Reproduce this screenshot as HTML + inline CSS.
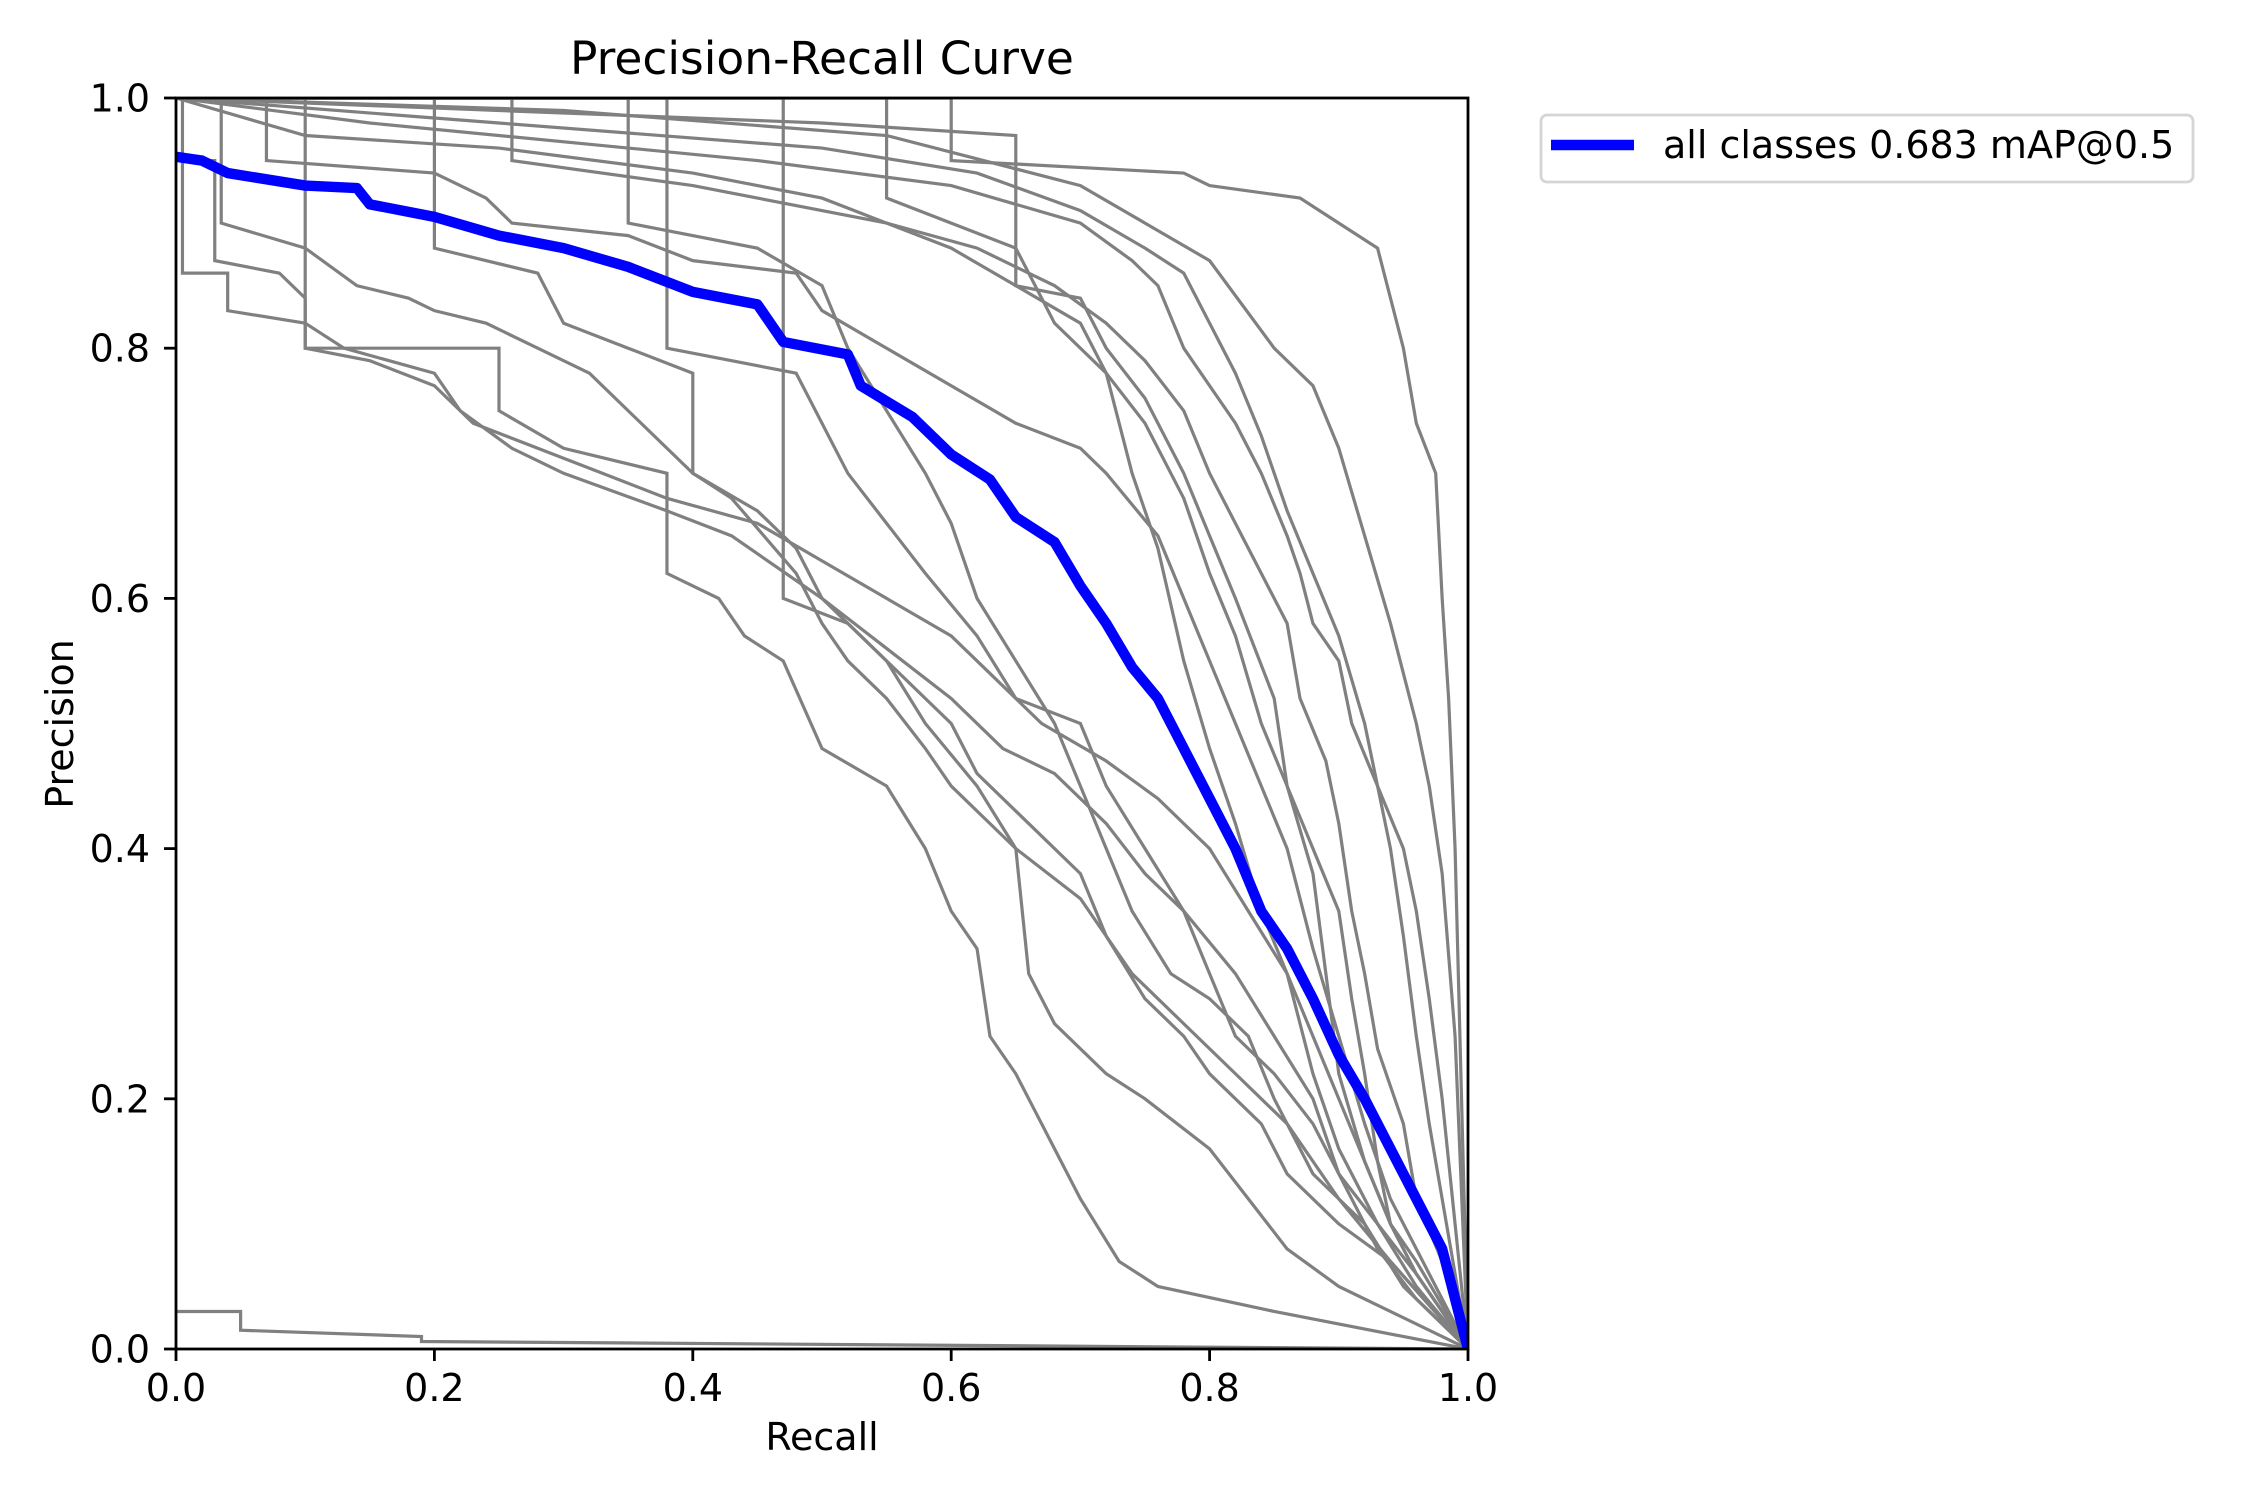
<!DOCTYPE html>
<html><head><meta charset="utf-8"><style>
html,body{margin:0;padding:0;background:#fff;}
svg{display:block;font-family:"DejaVu Sans","Liberation Sans",sans-serif;}
</style></head><body>
<svg width="2250" height="1500" viewBox="0 0 2250 1500" xmlns="http://www.w3.org/2000/svg">
<rect width="2250" height="1500" fill="#fff"/>
<defs><clipPath id="c"><rect x="176" y="98" width="1292" height="1251"/></clipPath></defs>
<g clip-path="url(#c)">
<g transform="translate(176,1349) scale(1292,-1251)" fill="none" stroke="#808080" stroke-width="3.2" stroke-linejoin="miter">
<polyline vector-effect="non-scaling-stroke" points="0,1 0.6,1 0.6,0.95 0.78,0.94 0.8,0.93 0.87,0.92 0.9,0.9 0.93,0.88 0.94,0.84 0.95,0.8 0.96,0.74 0.975,0.7 0.98,0.6 0.985,0.52 0.99,0.4 0.995,0.2 1,0"/>
<polyline vector-effect="non-scaling-stroke" points="0,1 0.3,0.99 0.55,0.97 0.7,0.93 0.75,0.9 0.8,0.87 0.85,0.8 0.88,0.77 0.9,0.72 0.92,0.65 0.94,0.58 0.96,0.5 0.97,0.45 0.98,0.38 0.99,0.25 1,0"/>
<polyline vector-effect="non-scaling-stroke" points="0,1 0.25,0.98 0.5,0.96 0.62,0.94 0.7,0.91 0.75,0.88 0.78,0.86 0.8,0.82 0.82,0.78 0.84,0.73 0.86,0.67 0.88,0.62 0.9,0.57 0.92,0.5 0.93,0.45 0.95,0.4 0.96,0.35 0.97,0.28 0.98,0.2 0.99,0.1 1,0"/>
<polyline vector-effect="non-scaling-stroke" points="0,1 0.15,0.98 0.45,0.95 0.6,0.93 0.7,0.9 0.74,0.87 0.76,0.85 0.78,0.8 0.8,0.77 0.82,0.74 0.84,0.7 0.86,0.65 0.87,0.62 0.88,0.58 0.9,0.55 0.91,0.5 0.93,0.45 0.94,0.4 0.95,0.33 0.96,0.25 0.97,0.18 0.98,0.12 1,0"/>
<polyline vector-effect="non-scaling-stroke" points="0,1 0.26,1 0.26,0.95 0.4,0.93 0.55,0.9 0.62,0.88 0.68,0.85 0.72,0.82 0.75,0.79 0.78,0.75 0.8,0.7 0.82,0.66 0.84,0.62 0.86,0.58 0.87,0.52 0.89,0.47 0.9,0.42 0.91,0.35 0.92,0.3 0.93,0.24 0.95,0.18 0.96,0.12 0.98,0.07 1,0"/>
<polyline vector-effect="non-scaling-stroke" points="0,1 0.1,0.97 0.25,0.96 0.4,0.94 0.5,0.92 0.6,0.88 0.65,0.85 0.7,0.82 0.72,0.78 0.75,0.74 0.78,0.68 0.8,0.62 0.82,0.57 0.84,0.5 0.86,0.45 0.88,0.4 0.9,0.35 0.91,0.28 0.92,0.22 0.93,0.15 0.94,0.1 0.96,0.06 1,0"/>
<polyline vector-effect="non-scaling-stroke" points="0,1 0.07,1 0.07,0.95 0.2,0.94 0.24,0.92 0.26,0.9 0.35,0.89 0.4,0.87 0.48,0.86 0.5,0.83 0.55,0.8 0.6,0.77 0.65,0.74 0.7,0.72 0.72,0.7 0.76,0.65 0.78,0.6 0.8,0.55 0.82,0.5 0.84,0.45 0.86,0.4 0.88,0.32 0.9,0.25 0.92,0.18 0.94,0.12 0.96,0.08 1,0"/>
<polyline vector-effect="non-scaling-stroke" points="0,1 0.55,1 0.55,0.92 0.6,0.9 0.65,0.88 0.68,0.82 0.72,0.78 0.74,0.7 0.76,0.64 0.78,0.55 0.8,0.48 0.82,0.42 0.84,0.35 0.86,0.3 0.88,0.25 0.9,0.2 0.92,0.15 0.94,0.1 0.96,0.07 1,0"/>
<polyline vector-effect="non-scaling-stroke" points="0,1 0.47,1 0.47,0.6 0.52,0.58 0.55,0.55 0.58,0.52 0.6,0.5 0.62,0.46 0.66,0.42 0.7,0.38 0.72,0.33 0.75,0.28 0.78,0.25 0.8,0.22 0.84,0.18 0.86,0.14 0.9,0.1 0.94,0.07 1,0"/>
<polyline vector-effect="non-scaling-stroke" points="0,0.95 0.03,0.95 0.03,0.87 0.08,0.86 0.1,0.84 0.1,0.8 0.15,0.79 0.2,0.77 0.23,0.74 0.28,0.72 0.33,0.7 0.38,0.68 0.45,0.66 0.5,0.63 0.55,0.6 0.6,0.57 0.63,0.54 0.67,0.5 0.72,0.47 0.76,0.44 0.8,0.4 0.83,0.35 0.86,0.3 0.88,0.22 0.9,0.16 0.93,0.1 0.96,0.05 1,0"/>
<polyline vector-effect="non-scaling-stroke" points="0,1 0.005,1 0.005,0.86 0.04,0.86 0.04,0.83 0.1,0.82 0.13,0.8 0.2,0.78 0.22,0.75 0.26,0.72 0.3,0.7 0.38,0.67 0.43,0.65 0.5,0.6 0.55,0.56 0.6,0.52 0.64,0.48 0.68,0.46 0.72,0.42 0.75,0.38 0.78,0.35 0.82,0.3 0.85,0.25 0.88,0.2 0.9,0.14 0.93,0.08 0.96,0.04 1,0"/>
<polyline vector-effect="non-scaling-stroke" points="0,1 0.1,1 0.1,0.8 0.25,0.8 0.25,0.75 0.3,0.72 0.38,0.7 0.38,0.62 0.42,0.6 0.44,0.57 0.47,0.55 0.5,0.48 0.55,0.45 0.58,0.4 0.6,0.35 0.62,0.32 0.63,0.25 0.65,0.22 0.67,0.18 0.7,0.12 0.73,0.07 0.76,0.05 0.85,0.03 1,0"/>
<polyline vector-effect="non-scaling-stroke" points="0,1 0.2,1 0.2,0.88 0.28,0.86 0.3,0.82 0.35,0.8 0.4,0.78 0.4,0.7 0.45,0.67 0.48,0.64 0.5,0.6 0.55,0.55 0.58,0.5 0.62,0.45 0.65,0.4 0.66,0.3 0.68,0.26 0.72,0.22 0.75,0.2 0.8,0.16 0.83,0.12 0.86,0.08 0.9,0.05 1,0"/>
<polyline vector-effect="non-scaling-stroke" points="0,1 0.35,1 0.35,0.9 0.45,0.88 0.5,0.85 0.52,0.8 0.55,0.75 0.58,0.7 0.6,0.66 0.62,0.6 0.65,0.55 0.68,0.5 0.7,0.45 0.72,0.4 0.74,0.35 0.77,0.3 0.8,0.28 0.83,0.25 0.85,0.2 0.88,0.14 0.92,0.1 0.95,0.05 1,0"/>
<polyline vector-effect="non-scaling-stroke" points="0,1 0.38,1 0.38,0.8 0.48,0.78 0.52,0.7 0.55,0.66 0.58,0.62 0.62,0.57 0.65,0.52 0.7,0.5 0.72,0.45 0.75,0.4 0.78,0.35 0.8,0.3 0.82,0.25 0.85,0.22 0.88,0.18 0.9,0.14 0.93,0.1 0.96,0.06 1,0"/>
<polyline vector-effect="non-scaling-stroke" points="0,1 0.5,0.98 0.65,0.97 0.65,0.85 0.7,0.84 0.72,0.8 0.75,0.76 0.78,0.7 0.8,0.65 0.82,0.6 0.85,0.52 0.86,0.45 0.88,0.38 0.89,0.3 0.9,0.22 0.92,0.15 0.94,0.1 0.96,0.06 1,0"/>
<polyline vector-effect="non-scaling-stroke" points="0,1 0.035,1 0.035,0.9 0.1,0.88 0.14,0.85 0.18,0.84 0.2,0.83 0.24,0.82 0.28,0.8 0.32,0.78 0.36,0.74 0.4,0.7 0.43,0.68 0.48,0.62 0.5,0.58 0.52,0.55 0.55,0.52 0.58,0.48 0.6,0.45 0.65,0.4 0.7,0.36 0.74,0.3 0.78,0.26 0.82,0.22 0.86,0.18 0.9,0.12 0.94,0.07 1,0"/>
<polyline vector-effect="non-scaling-stroke" points="0,0.03 0.05,0.03 0.05,0.015 0.19,0.01 0.19,0.006 1,0"/>
<polyline vector-effect="non-scaling-stroke" stroke="#0000ff" stroke-width="10.4" stroke-linejoin="round" points="0,0.953 0.02,0.95 0.04,0.94 0.1,0.93 0.14,0.928 0.15,0.915 0.2,0.905 0.25,0.89 0.3,0.88 0.35,0.865 0.4,0.845 0.45,0.835 0.47,0.805 0.52,0.795 0.53,0.77 0.57,0.745 0.6,0.715 0.63,0.695 0.65,0.665 0.68,0.645 0.7,0.61 0.72,0.58 0.74,0.545 0.76,0.52 0.78,0.48 0.8,0.44 0.82,0.4 0.84,0.35 0.86,0.32 0.88,0.28 0.9,0.235 0.92,0.2 0.94,0.16 0.96,0.12 0.98,0.08 1,0"/>
</g>
</g>
<rect x="176" y="98" width="1292" height="1251" fill="none" stroke="#000" stroke-width="2.8"/>
<g stroke="#000" stroke-width="2.8">
<line x1="176" y1="1349" x2="176" y2="1361"/><line x1="434.4" y1="1349" x2="434.4" y2="1361"/><line x1="692.8" y1="1349" x2="692.8" y2="1361"/><line x1="951.2" y1="1349" x2="951.2" y2="1361"/><line x1="1209.6" y1="1349" x2="1209.6" y2="1361"/><line x1="1468" y1="1349" x2="1468" y2="1361"/>
<line x1="164" y1="1349" x2="176" y2="1349"/><line x1="164" y1="1098.8" x2="176" y2="1098.8"/><line x1="164" y1="848.6" x2="176" y2="848.6"/><line x1="164" y1="598.4" x2="176" y2="598.4"/><line x1="164" y1="348.2" x2="176" y2="348.2"/><line x1="164" y1="98" x2="176" y2="98"/>
</g>
<g font-size="38" fill="#000" text-anchor="middle">
<text x="176" y="1401">0.0</text><text x="434.4" y="1401">0.2</text><text x="692.8" y="1401">0.4</text><text x="951.2" y="1401">0.6</text><text x="1209.6" y="1401">0.8</text><text x="1468" y="1401">1.0</text>
</g>
<g font-size="38" fill="#000" text-anchor="end">
<text x="150" y="1362.5">0.0</text><text x="150" y="1112.3">0.2</text><text x="150" y="862.1">0.4</text><text x="150" y="611.9">0.6</text><text x="150" y="361.7">0.8</text><text x="150" y="111.5">1.0</text>
</g>
<text x="822" y="74" font-size="45.5" text-anchor="middle">Precision-Recall Curve</text>
<text x="822" y="1450" font-size="38" text-anchor="middle">Recall</text>
<text transform="translate(73,724) rotate(-90)" font-size="38" text-anchor="middle">Precision</text>
<rect x="1541" y="115" width="652" height="67" rx="6" fill="#fff" stroke="#d5d5d5" stroke-width="2.8"/>
<line x1="1551" y1="145" x2="1634" y2="145" stroke="#0000ff" stroke-width="10.4"/>
<text x="1663" y="158" font-size="38">all classes 0.683 mAP@0.5</text>
</svg>
</body></html>
